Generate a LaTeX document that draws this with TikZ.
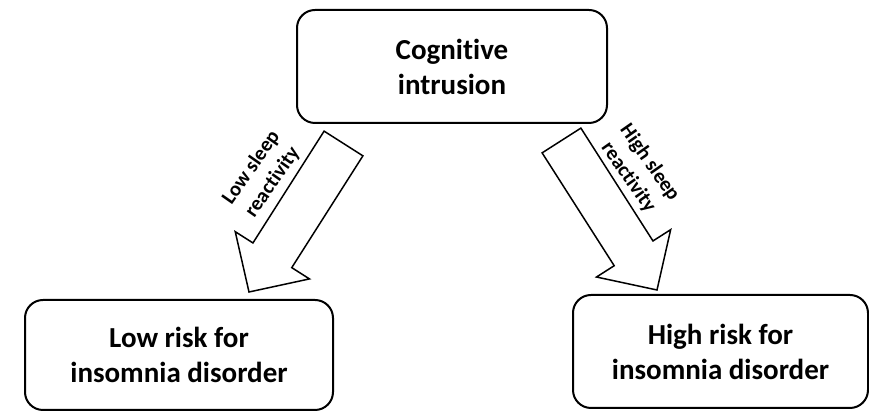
\documentclass[tikz,border=0pt]{standalone}
\usepackage{fontspec}
\setmainfont{Carlito}[Ligatures=NoCommon]
\usetikzlibrary{calc}
\tikzset{box/.style={draw,line width=1pt,rounded corners=9pt,align=center,inner sep=0pt,font=\fontsize{14.5}{17.5}\selectfont\bfseries},
lbl/.style={align=center,inner sep=0pt,font=\fontsize{10.3}{13}\selectfont\bfseries},
fat/.style={draw,line width=.75pt,line join=miter}}
\newcommand{\fatarrow}[2]{\coordinate(#1#2)at($(#2)!21.75pt!(#1)$);
\draw[fat]($(#1)!11.5pt!90:(#2)$)--($(#1#2)!11.5pt!90:(#2)$)--($(#1#2)!22pt!90:(#2)$)--(#2)--($(#1#2)!22pt!-90:(#2)$)--($(#1#2)!11.5pt!-90:(#2)$)--($(#1)!11.5pt!-90:(#2)$)--cycle;}
\begin{document}
\begin{tikzpicture}[x=.5pt,y=.5pt]
\useasboundingbox(0,0)rectangle(869,411);
\node[box,minimum width=155pt,minimum height=56.5pt](ci)at(452,344.5){Cognitive\\intrusion};
\node[box,minimum width=154pt,minimum height=55pt](lr)at(179,56){Low risk for\\insomnia disorder};
\node[box,minimum width=147.5pt,minimum height=56.5pt](hr)at(720.5,59.5){High risk for\\insomnia disorder};
\coordinate(tl)at($(ci.south)+(-108.5,-19.5)$);\coordinate(pl)at($(lr.north)+(70,7)$);
\coordinate(tr)at($(ci.south)+(109.5,-16.5)$);\coordinate(pr)at($(hr.north)+(-63.5,4)$);
\fatarrow{tl}{pl}\fatarrow{tr}{pr}
\node[lbl,rotate=55](ls)at(262,236){Low sleep\\reactivity};
\node[lbl,rotate=-55](hs)at(639,241){High sleep\\reactivity};
\end{tikzpicture}
\end{document}
